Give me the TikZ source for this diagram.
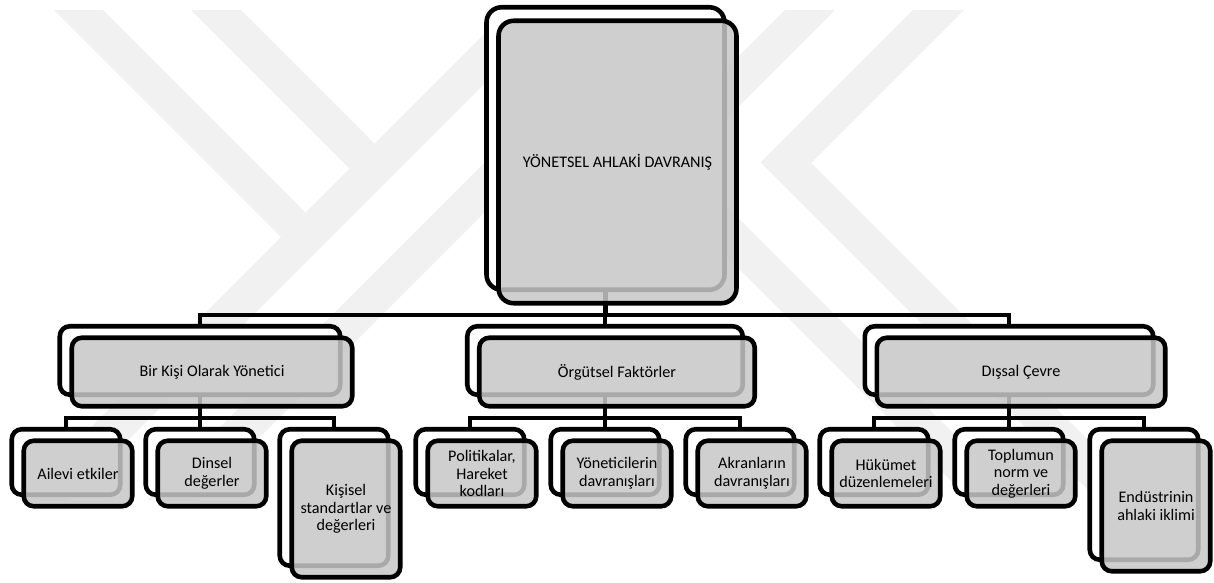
\documentclass[tikz,border=0pt]{standalone}
\usepackage{fontspec}
\setmainfont{Carlito}
\usetikzlibrary{positioning, calc}
\definecolor{boxgray}{gray}{0.78}
\definecolor{markgray}{gray}{0.945}
\tikzset{
  backbox/.style={draw=black,line width=2.6pt,fill=white,rounded corners=0.2cm,inner sep=0pt},
  frontbox/.style={draw=black,line width=2.6pt,fill=boxgray,fill opacity=.85,text opacity=1,
    rounded corners=0.2cm,inner sep=0pt,align=center,font=\fontsize{9.2}{10}\selectfont},
  topsize/.style={minimum width=4.76cm,minimum height=5.65cm,rounded corners=0.3cm},
  midsize/.style={minimum height=1.37cm,minimum width=#1},
  childsize/.style={minimum width=2.17cm,minimum height=#1},
  childsize/.default=1.31cm,
  conn/.style={line width=2.5pt,black},
  wmark/.style={fill=markgray,draw=none},
}
\pgfdeclarelayer{bg}
\pgfdeclarelayer{back}
\pgfsetlayers{bg,back,main}

\begin{document}
\begin{tikzpicture}[x=0.02cm,y=-0.02cm]
  \useasboundingbox (0,0) rectangle (1214,582);

  % faint watermark
  \begin{pgfonlayer}{bg}
    \begin{scope}
      \clip (0,10) rectangle (1214,500);
      \fill[wmark] (54,10) -- (103,10) -- (305.5,212.5) -- (281,237) -- cycle;
      \fill[wmark] (191,10) -- (241,10) -- (374.5,143.5) -- (349.5,168.5) -- cycle;
      \fill[wmark] (508,10) -- (558,10) -- (68,500) -- (18,500) -- cycle;
      \fill[wmark] (637,10) -- (687,10) -- (197,500) -- (147,500) -- cycle;
      \fill[wmark] (785,10) -- (835,10) -- (682.5,162.5) -- (1020,500) -- (970,500) -- (632.5,162.5) -- cycle;
      \fill[wmark] (913,10) -- (964,10) -- (811,163) -- (1148,500) -- (1098,500) -- (760.5,162.5) -- cycle;
    \end{scope}
  \end{pgfonlayer}

  % back boxes and connectors
  \begin{pgfonlayer}{back}
    \node[backbox,topsize] (top-b) at (605.5,148.5) {};

    \node[backbox,midsize=5.61cm] (g1-b) at (200,360.5) {};
    \node[backbox,midsize=5.51cm] (g2-b) at (605,360.5) {};
    \node[backbox,midsize=5.77cm] (g3-b) at (1009,360.5) {};

    \node[backbox,childsize] (c11-b) at (66,462) {};
    \node[backbox,childsize] (c12-b) at (200,462) {};
    \node[backbox,childsize=2.73cm] (c13-b) at (334,497.5) {};
    \node[backbox,childsize] (c21-b) at (470,462) {};
    \node[backbox,childsize] (c22-b) at (605,462) {};
    \node[backbox,childsize] (c23-b) at (740,462) {};
    \node[backbox,childsize] (c31-b) at (874,462) {};
    \node[backbox,childsize] (c32-b) at (1009,462) {};
    \node[backbox,childsize=2.61cm] (c33-b) at (1144,494.5) {};

    \foreach \g in {g1-b,g2-b,g3-b}
      \draw[conn] (top-b.south) -- ++(0,23) -| (\g.north);

    \foreach \c in {c11-b,c12-b,c13-b}
      \draw[conn] (g1-b.south) -- ++(0,21) -| (\c.north);
    \foreach \c in {c21-b,c22-b,c23-b}
      \draw[conn] (g2-b.south) -- ++(0,21) -| (\c.north);
    \foreach \c in {c31-b,c32-b,c33-b}
      \draw[conn] (g3-b.south) -- ++(0,21) -| (\c.north);
  \end{pgfonlayer}

  % front boxes
  \node[frontbox,topsize] (top) at ([shift={(12,13.5)}]top-b) {YÖNETSEL AHLAKİ DAVRANIŞ};

  \node[frontbox,midsize=5.61cm] (g1) at ([shift={(12,11.5)}]g1-b) {Bir Kişi Olarak Yönetici};
  \node[frontbox,midsize=5.51cm] (g2) at ([shift={(12,11.5)}]g2-b) {Örgütsel Faktörler};
  \node[frontbox,midsize=5.77cm] (g3) at ([shift={(12,11.5)}]g3-b) {Dışsal Çevre};

  \node[frontbox,childsize] (c11) at ([shift={(12,11.5)}]c11-b) {Ailevi etkiler};
  \node[frontbox,childsize] (c12) at ([shift={(12,11.5)}]c12-b) {Dinsel\\değerler};
  \node[frontbox,childsize=2.73cm] (c13) at ([shift={(12,11.5)}]c13-b) {Kişisel\\standartlar ve\\değerleri};
  \node[frontbox,childsize] (c21) at ([shift={(12,11.5)}]c21-b) {Politikalar,\\Hareket\\kodları};
  \node[frontbox,childsize] (c22) at ([shift={(12,11.5)}]c22-b) {Yöneticilerin\\davranışları};
  \node[frontbox,childsize] (c23) at ([shift={(12,11.5)}]c23-b) {Akranların\\davranışları};
  \node[frontbox,childsize] (c31) at ([shift={(12,11.5)}]c31-b) {Hükümet\\düzenlemeleri};
  \node[frontbox,childsize] (c32) at ([shift={(12,11.5)}]c32-b) {Toplumun\\norm ve\\değerleri};
  \node[frontbox,childsize=2.61cm] (c33) at ([shift={(12,11.5)}]c33-b) {Endüstrinin\\ahlaki iklimi};
\end{tikzpicture}
\end{document}
